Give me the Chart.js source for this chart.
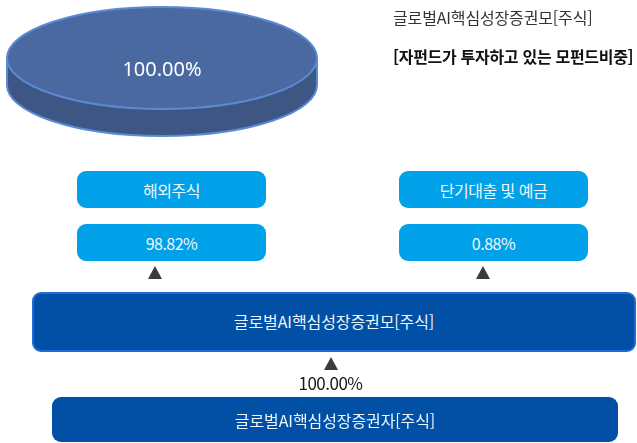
<!DOCTYPE html>
<html lang="ko">
<head>
<meta charset="utf-8">
<script src="https://cdn.jsdelivr.net/npm/chart.js@4.4.1/dist/chart.umd.min.js"></script>
<style>
  body { margin: 0; background: #fff; font-family: "Noto Sans CJK KR", "Noto Sans", sans-serif; }
  #wrap { position: relative; width: 637px; height: 443px; overflow: hidden; }
  #chartBox { position: absolute; left: 0; top: 0; width: 637px; height: 443px; }
  .txt { position: absolute; white-space: nowrap; letter-spacing: -0.5px; }
  .box { position: absolute; display: flex; align-items: center; justify-content: center;
         box-sizing: border-box; color: #eef7fd; font-size: 16px; letter-spacing: -0.5px; }
  .light { background: #00a1e8; border-radius: 9px; width: 189px; height: 37px; }
  .dark { background: #0150a6; border-radius: 9px; letter-spacing: -0.1px; }
  .tri { position: absolute; width: 0; height: 0; border-left: 7.5px solid transparent;
         border-right: 7.5px solid transparent; border-bottom: 13px solid #3c3c3c; }
</style>
</head>
<body>
<div id="wrap">
  <div id="chartBox"><canvas id="grafico"></canvas></div>
  <div class="txt" id="titulo" style="left:393px; top:5px; font-size:16px; letter-spacing:-0.15px; color:#333;"></div>
  <div class="txt" id="subtitulo" style="left:393px; top:44px; font-size:16px; font-weight:bold; letter-spacing:-0.3px; color:#111;"></div>

  <div class="box light" id="nombre0" style="left:77px; top:171px;"></div>
  <div class="box light" id="nombre1" style="left:399px; top:171px;"></div>
  <div class="box light" id="peso0" style="left:77px; top:224px;"></div>
  <div class="box light" id="peso1" style="left:399px; top:224px;"></div>
  <div class="tri" style="left:148px; top:266px;"></div>
  <div class="tri" style="left:476px; top:266px;"></div>

  <div class="box dark" id="fondoMadre" style="left:32px; top:292px; width:604px; height:60px; border:2px solid #1d6dd8; padding-bottom:2px;"></div>
  <div class="tri" style="left:324px; top:357px;"></div>
  <div class="txt" id="pesoHijo" style="left:0; width:661px; text-align:center; top:370px; font-size:17px; color:#1a1a1a;"></div>
  <div class="box dark" id="fondoHijo" style="left:52px; top:397px; width:566px; height:45px;"></div>
</div>
<script>
const tituloTexto = '글로벌AI핵심성장증권모[주식]';
const subtituloTexto = '[자펀드가 투자하고 있는 모펀드비중]';
const pieLabels = ['글로벌AI핵심성장증권모[주식]'];
const pieValues = [100.00];
const assetNames = ['해외주식', '단기대출 및 예금'];
const assetWeights = [98.82, 0.88];
const motherFund = '글로벌AI핵심성장증권모[주식]';
const childFund = '글로벌AI핵심성장증권자[주식]';
const childShare = [100.00];

document.getElementById('titulo').innerText = tituloTexto;
document.getElementById('subtitulo').innerText = subtituloTexto;
assetNames.forEach((n, i) => {
    document.getElementById('nombre' + i).innerText = n;
    document.getElementById('peso' + i).innerText = assetWeights[i].toFixed(2) + '%';
});
document.getElementById('fondoMadre').innerText = motherFund;
document.getElementById('fondoHijo').innerText = childFund;
document.getElementById('pesoHijo').innerText = childShare[0].toFixed(2) + '%';

// elipse del pastel 3D en la pagina
const elipse = { cx: 162, cy: 58, rx: 155, ry: 51, depth: 27 };

const pastel3d = {
    id: 'pastel3d',
    beforeDatasetsDraw(chart) {
        const ctx = chart.ctx;
        const arc = chart.getDatasetMeta(0).data[0];
        const p = arc.getProps(['x', 'y', 'outerRadius'], true);
        const e = elipse;
        // lado del cilindro
        ctx.save();
        ctx.beginPath();
        ctx.moveTo(e.cx + e.rx, e.cy);
        ctx.lineTo(e.cx + e.rx, e.cy + e.depth);
        ctx.ellipse(e.cx, e.cy + e.depth, e.rx, e.ry, 0, 0, Math.PI, false);
        ctx.lineTo(e.cx - e.rx, e.cy);
        ctx.closePath();
        ctx.fillStyle = '#3e5684';
        ctx.fill();
        ctx.lineWidth = 2;
        ctx.strokeStyle = '#5b8ad4';
        ctx.stroke();
        ctx.restore();
        // cara superior
        ctx.save();
        ctx.translate(e.cx, e.cy);
        ctx.scale(e.rx / p.outerRadius, e.ry / p.outerRadius);
        ctx.translate(-p.x, -p.y);
    },
    afterDatasetsDraw(chart) {
        const ctx = chart.ctx;
        const e = elipse;
        ctx.restore();
        ctx.save();
        ctx.beginPath();
        ctx.ellipse(e.cx, e.cy, e.rx, e.ry, 0, 0, Math.PI * 2);
        ctx.lineWidth = 2;
        ctx.strokeStyle = '#5b8ad4';
        ctx.stroke();
        ctx.fillStyle = '#ffffff';
        ctx.font = '20px "Noto Sans", sans-serif';
        ctx.textAlign = 'center';
        ctx.textBaseline = 'middle';
        const val = chart.data.datasets[0].data[0];
        ctx.fillText(val.toFixed(2) + '%', e.cx, e.cy + 12);
        ctx.restore();
    }
};

const grafico = new Chart(document.getElementById('grafico').getContext('2d'), {
    type: 'pie',
    data: {
        labels: pieLabels,
        datasets: [{
            data: pieValues,
            backgroundColor: '#4a69a0',
            borderWidth: 0
        }]
    },
    options: {
        responsive: true,
        maintainAspectRatio: false,
        animation: false,
        plugins: {
            legend: { display: false },
            tooltip: { enabled: false }
        }
    },
    plugins: [pastel3d]
});
</script>
</body>
</html>
